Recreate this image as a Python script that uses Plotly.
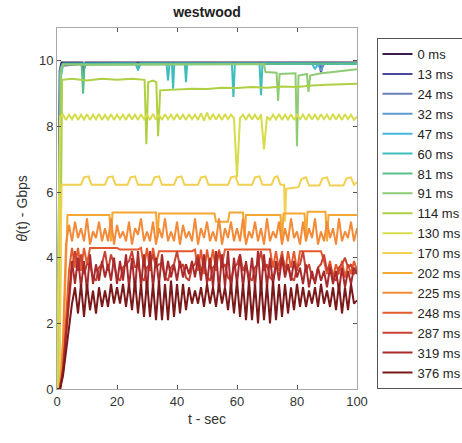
import plotly.graph_objects as go

# ---------------- data ----------------
labels = ["0 ms", "13 ms", "24 ms", "32 ms", "47 ms", "60 ms", "81 ms", "91 ms",
          "114 ms", "130 ms", "170 ms", "202 ms", "225 ms", "248 ms", "287 ms",
          "319 ms", "376 ms"]
colors = ["#3a1c48", "#4a4aa2", "#6a80b4", "#5c9cd2", "#42b8e0", "#3fbcbc",
          "#5cbf8a", "#8ecb74", "#aed042", "#d6dc4c", "#f2d050", "#f6a632",
          "#f28a38", "#e35a2c", "#c84232", "#a82a2c", "#7a181a"]

t_0 = [0, 0.3, 0.9, 1.5, 8.5, 9, 9.5, 100]
v_0 = [0, 0, 9.7, 9.95, 9.95, 9.75, 9.95, 9.95]
t_13 = [0, 0.3, 1.0, 1.6, 8.2, 8.7, 9.2, 87.5, 88, 88.6, 100]
v_13 = [0, 0, 9.4, 9.85, 9.9, 9.6, 9.9, 9.9, 9.65, 9.9, 9.93]
t_24 = [0, 0.4, 1.0, 2, 100]
v_24 = [0, 0, 9.5, 9.9, 9.92]
t_32 = [0, 0.4, 1.0, 1.8, 87, 88, 89, 100]
v_32 = [0, 0, 9.6, 9.9, 9.9, 9.7, 9.9, 9.92]
t_47 = [0, 0.4, 1.1, 2, 26, 27, 28, 85, 86, 87, 100]
v_47 = [0, 0, 9.75, 9.92, 9.92, 9.75, 9.92, 9.92, 9.75, 9.9, 9.9]
t_60 = [0, 0.5, 1.3, 2, 26.5, 27, 27.5, 36.5, 37, 37.5, 38.3, 38.7, 39.1,
        42.6, 43, 43.4, 58.3, 58.8, 59.3, 67.5, 68, 68.5, 100]
v_60 = [0, 0, 9.5, 9.9, 9.92, 9.7, 9.92, 9.92, 9.4, 9.92, 9.92, 9.15, 9.92,
        9.92, 9.35, 9.92, 9.92, 8.9, 9.92, 9.92, 8.95, 9.92, 9.92]
t_81 = [0, 0.5, 1.2, 2, 8.2, 8.7, 9.2, 100]
v_81 = [0, 0, 9.6, 9.9, 9.9, 9.0, 9.88, 9.92]
t_91 = [0, 0.5, 1.3, 2, 69, 69.5, 73.2, 73.7, 74.2, 79.5, 80, 80.5, 83.3,
        83.8, 84.4, 88, 92, 96, 100]
v_91 = [0, 0, 9.7, 9.88, 9.9, 9.66, 9.64, 8.78, 9.6, 9.62, 7.4, 9.55, 9.6,
        9.05, 9.55, 9.62, 9.66, 9.7, 9.74]
t_114 = [0, 0.8, 1.7, 5, 10, 15, 20, 25, 29.2, 29.8, 30.4, 32, 33.1, 33.7,
         34.4, 40, 45, 50, 55, 60, 65, 70, 75, 80, 85, 90, 95, 100]
v_114 = [0, 0, 9.42, 9.45, 9.4, 9.45, 9.42, 9.45, 9.42, 7.46, 9.35, 9.4, 9.35,
         7.7, 9.1, 9.12, 9.15, 9.14, 9.18, 9.17, 9.2, 9.18, 9.22, 9.2, 9.25,
         9.27, 9.28, 9.3]
v_130 = [0, 8.3, 8.36, 8.2, 8.36, 8.22, 8.38, 8.2, 8.36, 8.21, 8.37,
         8.2, 8.36, 8.22, 8.38, 8.2, 8.35, 8.21, 8.37, 8.2, 8.36,
         8.22, 8.36, 8.2, 8.38, 8.21, 8.36, 8.2, 8.37, 8.22, 8.36,
         8.2, 8.38, 8.21, 8.36, 8.2, 8.37, 8.22, 8.36, 8.2, 8.38,
         8.21, 8.36, 8.2, 8.37, 8.22, 8.36, 8.2, 8.4, 8.18, 8.42,
         8.2, 8.38, 8.21, 8.36, 8.2, 8.37, 8.22, 8.36, 8.25, 6.45,
         8.25, 8.36, 8.2, 8.38, 8.21, 8.36, 8.2, 8.37, 7.3, 8.3,
         8.2, 8.36, 8.22, 8.38, 8.2, 8.36, 8.21, 8.37, 8.2, 8.36,
         8.22, 8.36, 8.2, 8.38, 8.21, 8.36, 8.2, 8.37, 8.22, 8.36,
         8.2, 8.38, 8.21, 8.36, 8.2, 8.37, 8.22, 8.36, 8.2, 8.3]
t_170 = [0, 0.8, 1.5, 8, 9, 10.5, 11.5, 16, 17, 18.5, 19.5, 23.5, 24.5, 26, 27,
         31.5, 32.5, 34, 35, 39, 40, 41.5, 42.5, 47, 48, 49.5, 50.5, 57, 58,
         59.5, 60.5, 65, 66, 67.5, 68.5, 71.5, 72.5, 73.5, 74.5, 75.7, 76,
         76.4, 80.5, 81.5, 83, 84, 87.5, 88.5, 90, 91, 95.5, 96.5, 98, 99, 100]
v_170 = [0, 0, 6.22, 6.22, 6.45, 6.48, 6.22, 6.22, 6.45, 6.48, 6.22, 6.22, 6.45,
         6.48, 6.22, 6.22, 6.45, 6.48, 6.22, 6.22, 6.45, 6.48, 6.22, 6.22, 6.45,
         6.48, 6.22, 6.22, 6.45, 6.48, 6.22, 6.22, 6.45, 6.48, 6.22, 6.22, 6.45,
         6.48, 6.22, 6.22, 5.1, 6.1, 6.15, 6.4, 6.45, 6.2, 6.2, 6.42, 6.45, 6.2,
         6.2, 6.42, 6.45, 6.22, 6.3]
t_202 = [0, 1, 2, 3, 3.5, 17.5, 18, 18.5, 33, 33.5, 34, 52.5, 53, 57, 57.5, 62,
         62.5, 63, 74.5, 75, 75.5, 82.5, 83, 83.5, 89.5, 90, 90.5, 100]
v_202 = [0, 0, 1.0, 4.4, 5.3, 5.3, 4.5, 5.38, 5.38, 4.6, 5.35, 5.35, 5.1, 5.1,
         5.38, 5.38, 4.6, 5.3, 5.3, 4.5, 5.35, 5.35, 4.6, 5.4, 5.4, 4.5, 5.3, 5.3]
v_225 = [0, 0, 1.5, 4.4, 5.0, 4.5, 5.1, 4.6, 4.9, 4.5, 5.2,
         4.4, 4.8, 4.6, 5.1, 4.5, 4.9, 4.5, 5.2, 4.4, 5.0,
         4.6, 4.8, 4.5, 5.1, 4.4, 4.9, 4.7, 5.2, 4.5, 4.8,
         4.5, 5.1, 4.4, 4.9, 4.6, 5.2, 4.5, 4.8, 4.5, 5.1,
         4.4, 5.0, 4.6, 4.8, 4.5, 5.2, 4.4, 4.9, 4.6, 5.1,
         4.5, 4.8, 4.5, 5.2, 4.4, 4.9, 4.6, 5.1, 4.5, 4.9,
         4.5, 5.2, 4.4, 4.8, 4.6, 5.1, 4.5, 4.9, 4.4, 5.2,
         4.5, 4.8, 4.6, 5.1, 4.4, 4.9, 4.5, 5.2, 4.6, 4.8,
         4.4, 5.1, 4.5, 4.9, 4.6, 5.2, 4.4, 4.8, 4.5, 5.1,
         4.6, 4.9, 4.4, 5.2, 4.5, 4.8, 4.6, 5.1, 4.5, 4.9]
v_248 = [0, 0, 0.6, 2.0, 3.6, 4.3, 3.7, 4.3, 3.6, 4.3, 3.8,
         4.3, 4.3, 4.3, 4.3, 4.3, 4.3, 4.3, 4.3, 4.3, 4.3,
         4.25, 4.25, 4.25, 4.25, 4.25, 4.25, 4.25, 4.3, 3.7, 4.3,
         3.6, 4.3, 3.8, 4.2, 4.2, 4.2, 4.2, 4.2, 4.2, 4.2,
         4.2, 4.2, 4.2, 4.2, 4.2, 4.25, 3.6, 4.25, 3.5, 4.25,
         3.7, 4.25, 3.6, 4.25, 3.8, 4.25, 4.25, 4.25, 4.25, 4.25,
         4.25, 4.25, 4.25, 4.25, 4.25, 4.25, 4.25, 4.25, 4.25, 4.25,
         4.25, 3.7, 4.2, 3.6, 4.2, 3.5, 4.2, 3.7, 4.2, 3.6,
         4.2, 4.2, 4.2, 4.2, 4.2, 4.2, 4.2, 4.2, 3.9, 3.5,
         3.9, 3.4, 3.8, 3.5, 3.9, 3.4, 3.8, 3.5, 3.9, 3.6, 3.8]
v_287 = [0, 0, 0.5, 1.6, 2.8, 3.7, 4.2, 3.6, 4.1, 3.5, 3.8,
         3.8, 3.4, 3.3, 3.7, 3.8, 4.2, 3.6, 4.1, 3.8, 3.4,
         3.3, 3.7, 3.8, 3.9, 4.2, 3.7, 3.8, 3.4, 3.3, 3.7,
         3.8, 4.1, 3.7, 3.8, 3.8, 3.4, 3.3, 3.7, 3.8, 4.2,
         3.7, 3.8, 3.4, 3.3, 3.7, 3.8, 4.1, 3.6, 3.8, 3.4,
         3.3, 3.7, 3.8, 4.2, 3.7, 3.8, 3.4, 3.3, 3.7, 3.8,
         4.1, 3.6, 3.8, 3.4, 3.3, 3.7, 3.8, 4.2, 3.6, 3.8,
         3.4, 3.3, 3.7, 3.8, 4.1, 3.7, 3.8, 3.4, 3.3, 3.7,
         3.8, 4.2, 3.6, 3.8, 3.4, 3.3, 3.7, 3.8, 4.1, 3.6,
         3.8, 3.4, 3.3, 3.7, 3.8, 4.0, 3.7, 3.8, 3.5, 3.6]
v_319 = [0, 0, 0.6, 1.8, 3.0, 3.9, 3.2, 4.0, 3.1, 3.9, 3.0,
         4.1, 3.2, 3.8, 3.3, 3.9, 3.4, 3.8, 3.3, 4.0, 3.2,
         3.9, 3.3, 4.1, 3.1, 4.0, 3.0, 4.2, 3.1, 4.1, 3.0,
         4.2, 3.1, 4.0, 3.2, 4.1, 3.3, 3.9, 3.4, 3.8, 3.3,
         3.9, 3.4, 3.8, 3.5, 3.9, 3.4, 4.0, 3.3, 4.1, 3.2,
         4.0, 3.1, 4.2, 3.0, 4.1, 3.1, 4.2, 3.0, 4.0, 3.2,
         4.1, 3.1, 3.9, 3.2, 4.0, 3.1, 4.2, 3.0, 4.1, 3.1,
         4.0, 3.2, 3.9, 3.3, 4.0, 3.4, 3.8, 3.3, 3.9, 3.4,
         3.7, 3.2, 3.8, 3.1, 3.6, 3.2, 3.7, 3.3, 3.6, 3.1,
         3.7, 3.2, 3.6, 3.0, 3.7, 3.1, 3.6, 3.2, 3.7, 3.5]
v_376 = [0, 0, 0.4, 1.2, 2.0, 2.6, 3.1, 2.3, 3.2, 2.2, 3.2,
         2.4, 3.0, 2.3, 3.1, 2.5, 3.0, 2.5, 3.2, 2.6, 3.1,
         2.6, 3.2, 2.5, 3.2, 2.4, 3.3, 2.3, 3.2, 2.2, 3.3,
         2.2, 3.2, 2.1, 3.3, 2.1, 3.2, 2.1, 3.3, 2.2, 3.2,
         2.3, 3.2, 2.4, 3.1, 2.6, 3.0, 2.6, 3.1, 2.5, 3.2,
         2.6, 3.1, 2.5, 3.2, 2.6, 3.1, 2.4, 3.2, 2.3, 3.3,
         2.2, 3.2, 2.1, 3.3, 2.1, 3.2, 2.0, 3.3, 2.1, 3.2,
         2.0, 3.3, 2.1, 3.2, 2.2, 3.2, 2.3, 3.1, 2.4, 3.2,
         2.5, 3.1, 2.5, 3.0, 2.6, 3.1, 2.5, 3.2, 2.6, 3.0,
         2.5, 3.1, 2.4, 3.2, 2.3, 3.1, 2.4, 3.2, 2.6, 2.7]
t_sec = list(range(0, 101))

xs = [t_0, t_13, t_24, t_32, t_47, t_60, t_81, t_91, t_114, t_sec, t_170,
      t_202, t_sec, t_sec, t_sec, t_sec, t_sec]
ys = [v_0, v_13, v_24, v_32, v_47, v_60, v_81, v_91, v_114, v_130, v_170,
      v_202, v_225, v_248, v_287, v_319, v_376]

x_ticks = [0, 20, 40, 60, 80, 100]
y_ticks = [0, 2, 4, 6, 8, 10]

# ---------------- figure ----------------
FONT = "Liberation Sans, Arial, sans-serif"
fig = go.Figure()
for lab, col, x, y in zip(labels, colors, xs, ys):
    fig.add_trace(go.Scatter(x=x, y=y, mode="lines", name=lab,
                             line=dict(color=col, width=2)))

axis_common = dict(showline=True, linecolor="#a8a8a8", linewidth=1, mirror="ticks",
                   ticks="inside", ticklen=4, tickcolor="#555", showgrid=False,
                   zeroline=False, tickfont=dict(family=FONT, size=13, color="#333"))
fig.update_xaxes(range=[0, 100], tickvals=x_ticks,
                 title=dict(text="t - sec", font=dict(family=FONT, size=14, color="#333"),
                            standoff=6),
                 **axis_common)
fig.update_yaxes(range=[0, 11], tickvals=y_ticks,
                 title=dict(text="<i>θ</i>(t) - Gbps",
                            font=dict(family=FONT, size=14, color="#333"), standoff=8),
                 **axis_common)
fig.update_layout(
    width=462, height=443,
    margin=dict(l=57, r=105, t=28, b=54, autoexpand=False),
    paper_bgcolor="white", plot_bgcolor="white",
    title=dict(text="<b>westwood</b>", x=0.5, xref="paper", y=1 - 12 / 443,
               yanchor="middle", font=dict(family=FONT, size=14, color="#222")),
    legend=dict(x=1.065, y=0.972, xanchor="left", yanchor="top",
                bgcolor="white", bordercolor="#555", borderwidth=1,
                font=dict(family=FONT, size=13, color="#222"),
                itemwidth=30, tracegroupgap=0),
    showlegend=True,
)
fig.write_html("out.html")
